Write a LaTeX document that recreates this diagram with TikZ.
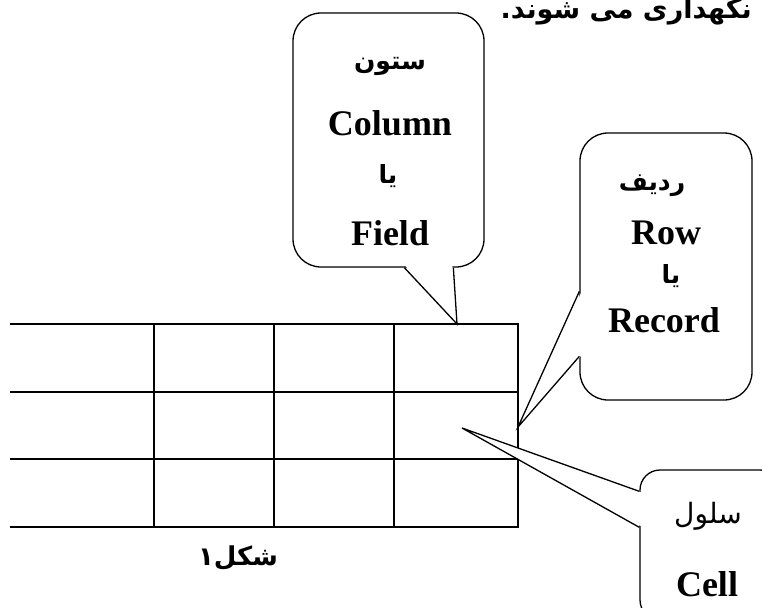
\documentclass[tikz,border=0pt]{standalone}
\usepackage{fontspec}
\setmainfont{Liberation Serif}
\newfontfamily\arabicfont[Script=Arabic]{DejaVu Sans}
\TeXXeTstate=1
\usetikzlibrary{calc}
\begin{document}
\begin{tikzpicture}[x=1pt,y=-1pt,
  gridline/.style={line width=2pt},
  callbox/.style={draw, line width=1.3pt, fill=white, rounded corners=28pt, inner sep=0pt},
  tail/.style={line width=1.3pt, line join=miter},
  lat/.style={font=\fontsize{36}{40}\selectfont\bfseries, inner sep=0pt},
  ara/.style={font=\fontsize{25}{29}\selectfont\arabicfont\bfseries, inner sep=0pt},
  arareg/.style={font=\fontsize{28}{32}\selectfont\arabicfont, inner sep=0pt},
]
\useasboundingbox (0,0) rectangle (762,607);

% top text (cut off at the top edge, as in the reference)
\node[anchor=base east, inner sep=0pt, font=\fontsize{27}{31}\selectfont\arabicfont\bfseries] (toptext) at (752,19) {\beginR نگهداری می شوند.\endR};

% table
\foreach \y in {324,392,459,527} \draw[gridline] (10,\y) -- (519,\y);
\foreach \x in {154,274,394,518} \draw[gridline] (\x,324) -- (\x,527);

% column callout
\node[callbox, minimum width=191pt, minimum height=254pt] (colbox) at (388.5,140) {};
\coordinate (coltip) at (457,324);
\fill[white] ($(colbox.south west)+(113,-2)$) -- (coltip) -- ($(colbox.south west)+(160,-2)$) -- cycle;
\draw[tail] ($(colbox.south west)+(112,0)$) -- (coltip) -- ($(colbox.south west)+(161,0)$);
\node[ara] (c1) at (390,66) {\beginR ستون\endR};
\node[lat] (c2) at (390,123) {Column};
\node[ara] (c3) at (388,176) {\beginR یا\endR};
\node[lat] (c4) at (390,233) {Field};

% row callout
\node[callbox, minimum width=172pt, minimum height=267pt] (rowbox) at (666,266.5) {};
\coordinate (rowtip) at (518,427);
\fill[white] ($(rowbox.north west)+(2,160)$) -- (rowtip) -- ($(rowbox.north west)+(2,223)$) -- cycle;
\draw[tail] ($(rowbox.north west)+(0,159)$) -- (rowtip) -- ($(rowbox.north west)+(0,224)$);
\node[ara] (r1) at (652,186) {\beginR ردیف\endR};
\node[lat] (r2) at (666,233) {Row};
\node[ara] (r3) at (671,276) {\beginR یا\endR};
\node[lat] (r4) at (664,320) {Record};

% cell callout
\node[callbox, rounded corners=20pt, minimum width=140pt, minimum height=150pt] (cellbox) at (710,545) {};
\coordinate (celltip) at (462,428);
\fill[white] ($(cellbox.north west)+(2,23)$) -- (celltip) -- ($(cellbox.north west)+(2,57)$) -- cycle;
\draw[tail] ($(cellbox.north west)+(0,22)$) -- (celltip) -- ($(cellbox.north west)+(0,58)$);
\node[arareg] (s1) at (708,516) {\beginR سلول\endR};
\node[lat] (s2) at (707,584) {Cell};

% caption
\node[inner sep=0pt, font=\fontsize{26}{30}\selectfont\arabicfont\bfseries] (cap) at (238,558) {\beginR شکل۱\endR};
\end{tikzpicture}
\end{document}
